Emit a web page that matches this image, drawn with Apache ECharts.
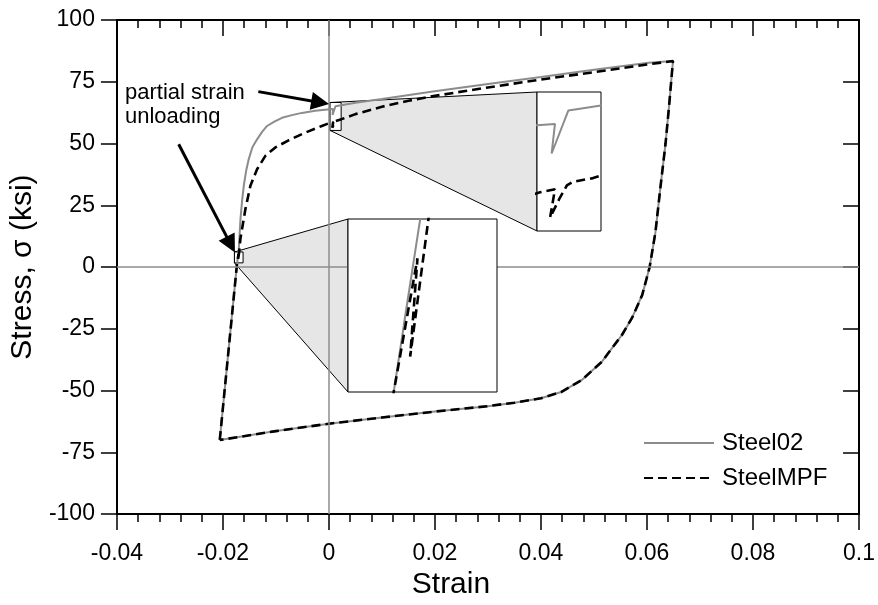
<!DOCTYPE html>
<html>
<head>
<meta charset="utf-8">
<script src="https://cdn.jsdelivr.net/npm/echarts@6/dist/echarts.min.js"></script>
<style>
    html, body { margin: 0; padding: 0; background: #fff; }
    #chart { width: 878px; height: 605px; }
</style>
</head>
<body>
<div id="chart"></div>
<script>
    /*----------  data: [strain, stress (ksi)]  ----------*/
    var strainRange = [-0.04, 0.1];
    var stressRange = [-100, 100];

    // reloading branch, Steel02 (grey)
    var steel02Reload = [
        [-0.0206, -70.0], [-0.01733, 1.7], [-0.0171, 5.2], [-0.01722, 3.4], [-0.01704, 6.1],
        [-0.01685, 13.5], [-0.01669, 19.5], [-0.01638, 27.0], [-0.01607, 32.9], [-0.0156, 39.2],
        [-0.01513, 43.7], [-0.01444, 48.5], [-0.01356, 51.7], [-0.01265, 54.6], [-0.01168, 57.1],
        [-0.0103, 58.9], [-0.00886, 60.4], [-0.0070, 61.5], [-0.0051, 62.4], [-0.0026, 63.3],
        [0.0002, 63.9], [0.00079, 64.0], [0.00068, 61.6], [0.00123, 65.1], [0.0023, 65.5],
        [0.005, 66.5], [0.010, 68.0], [0.0196, 71.1], [0.030, 74.1], [0.040, 76.9],
        [0.050, 79.9], [0.0603, 82.7], [0.0649, 83.4]
    ];

    // reloading branch, SteelMPF (dashed)
    var steelMPFReload = [
        [-0.0206, -70.0], [-0.01733, 1.7], [-0.01707, 5.1], [-0.01715, 2.6], [-0.01695, 6.1],
        [-0.0167, 11.5], [-0.01576, 23.5], [-0.01482, 32.9], [-0.01356, 39.6], [-0.0120, 45.0],
        [-0.01012, 48.4], [-0.00762, 51.3], [-0.00448, 54.4], [-0.00134, 57.1], [0.0003, 58.45],
        [0.00079, 58.7], [0.00063, 56.4], [0.00095, 58.0], [0.00118, 59.0], [0.00138, 59.3],
        [0.00204, 59.6], [0.005, 61.9], [0.010, 64.9], [0.015, 67.3], [0.020, 69.3],
        [0.030, 72.7], [0.040, 75.9], [0.050, 78.9], [0.060, 82.0], [0.0649, 83.4]
    ];

    // unloading branch, both models coincide
    var sharedUnload = [
        [0.0649, 83.4], [0.0642, 66.0], [0.0635, 50.0], [0.0625, 31.6], [0.0616, 14.2],
        [0.0605, 0.0], [0.0591, -11.3], [0.0572, -20.5], [0.0553, -27.4], [0.0515, -38.3],
        [0.04765, -45.8], [0.0438, -50.6], [0.040, -53.1], [0.035, -54.9], [0.030, -56.3],
        [0.020, -58.5], [0.010, -60.9], [0.000, -63.4], [-0.010, -66.4], [-0.0206, -70.0]
    ];

    // magnified windows (data units)
    var zoomRects = [
        { strain: [0.0002, 0.0023], stress: [55.3, 66.6] },
        { strain: [-0.01783, -0.0162], stress: [1.7, 6.1] }
    ];

    // annotation arrows (data units): [from, to]
    var arrows = [
        [[-0.01332, 71.0], [-0.00166, 66.6]],
        [[-0.02835, 49.7], [-0.01852, 9.1]]
    ];
    var noteText = 'partial strain\nunloading';

    /*----------  layout  ----------*/
    var FONT = '"Liberation Sans", Arial, sans-serif';
    var plot = { left: 116, top: 20, right: 17, bottom: 88 };
    var insetBoxes = [
        { left: 537, top: 92, width: 64, height: 139 },
        { left: 348, top: 219, width: 149, height: 173 }
    ];

    var steel02Data = steel02Reload.concat(sharedUnload);
    var steelMPFData = steelMPFReload.concat(sharedUnload);

    var greyLine = { color: '#8c8c8c', width: 2 };
    var dashLine = { color: '#000', width: 2.6, type: [9, 5] };
    var axisLine = { color: '#000', width: 2 };
    var tickLine = { color: '#000', width: 1.5 };

    var grids = [{ left: plot.left, top: plot.top, right: plot.right, bottom: plot.bottom, show: false }];
    var xAxes = [
        {
            type: 'value', gridIndex: 0, min: strainRange[0], max: strainRange[1], interval: 0.02,
            position: 'bottom',
            axisLine: { onZero: false, lineStyle: axisLine },
            axisTick: { length: 16, lineStyle: tickLine },
            minorTick: { show: true, splitNumber: 5, length: 8, lineStyle: tickLine },
            splitLine: { show: false },
            axisLabel: { color: '#000', fontSize: 23, fontFamily: FONT, margin: 28 },
            name: 'Strain', nameLocation: 'middle', nameGap: 46,
            nameTextStyle: { color: '#000', fontSize: 30, fontFamily: FONT, padding: [0, 74, 0, 0] }
        },
        {
            type: 'value', gridIndex: 0, min: strainRange[0], max: strainRange[1], interval: 0.02,
            position: 'top',
            axisLine: { onZero: false, lineStyle: axisLine },
            axisTick: { inside: true, length: 16, lineStyle: tickLine },
            minorTick: { show: true, splitNumber: 5, length: 8, lineStyle: tickLine },
            splitLine: { show: false },
            axisLabel: { show: false }
        }
    ];
    var yAxes = [
        {
            type: 'value', gridIndex: 0, min: stressRange[0], max: stressRange[1], interval: 25,
            position: 'left',
            axisLine: { onZero: false, lineStyle: axisLine },
            axisTick: { length: 16, lineStyle: tickLine },
            splitLine: { show: false },
            axisLabel: { color: '#000', fontSize: 23, fontFamily: FONT, margin: 22 },
            name: 'Stress, σ (ksi)', nameLocation: 'middle', nameGap: 75, nameRotate: 90,
            nameTextStyle: { color: '#000', fontSize: 30, fontFamily: FONT }
        },
        {
            type: 'value', gridIndex: 0, min: stressRange[0], max: stressRange[1], interval: 25,
            position: 'right',
            axisLine: { onZero: false, lineStyle: axisLine },
            axisTick: { inside: true, length: 16, lineStyle: tickLine },
            splitLine: { show: false },
            axisLabel: { show: false }
        }
    ];

    var series = [
        {
            // shaded projection from small window to magnified box, plus the window frame
            type: 'custom', xAxisIndex: 0, yAxisIndex: 0, z: 1, silent: true, clip: false,
            data: [0, 1],
            renderItem: function (params, api) {
                var i = params.dataIndex;
                var r = zoomRects[i], b = insetBoxes[i];
                var tl = api.coord([r.strain[0], r.stress[1]]);
                var bl = api.coord([r.strain[0], r.stress[0]]);
                var br = api.coord([r.strain[1], r.stress[0]]);
                return {
                    type: 'group',
                    children: [
                        {
                            type: 'polygon',
                            shape: { points: [tl, [b.left, b.top], [b.left, b.top + b.height], bl] },
                            style: { fill: '#e6e6e6', stroke: '#000', lineWidth: 1 }
                        },
                        {
                            type: 'rect',
                            shape: { x: tl[0], y: tl[1], width: br[0] - tl[0], height: br[1] - tl[1] },
                            style: { fill: '#fff', stroke: '#000', lineWidth: 1 }
                        }
                    ]
                };
            }
        },
        {
            type: 'line', name: 'zero', data: [], xAxisIndex: 0, yAxisIndex: 0, z: 2, silent: true,
            markLine: {
                silent: true, symbol: 'none', animation: false, label: { show: false },
                lineStyle: { color: '#8c8c8c', width: 1.5, type: 'solid' },
                data: [{ xAxis: 0 }, { yAxis: 0 }]
            }
        },
        {
            type: 'line', name: 'Steel02', data: steel02Data, xAxisIndex: 0, yAxisIndex: 0, z: 3,
            showSymbol: false, symbol: 'none', lineStyle: greyLine, itemStyle: { color: greyLine.color }
        },
        {
            type: 'line', name: 'SteelMPF', data: steelMPFData, xAxisIndex: 0, yAxisIndex: 0, z: 3,
            showSymbol: false, symbol: 'none', lineStyle: dashLine, itemStyle: { color: '#000' }
        },
        {
            type: 'line', name: 'arrows', data: [], xAxisIndex: 0, yAxisIndex: 0, z: 4, silent: true,
            markLine: {
                silent: true, animation: false, symbol: ['none', 'triangle'], symbolSize: 18,
                label: { show: false },
                lineStyle: { color: '#000', width: 3, type: 'solid' },
                itemStyle: { color: '#000' },
                data: arrows.map(function (a) { return [{ coord: a[0] }, { coord: a[1] }]; })
            }
        }
    ];

    // magnified insets: own grid, axes spanning the small window
    insetBoxes.forEach(function (b, i) {
        var r = zoomRects[i];
        var gi = i + 1;
        grids.push({
            left: b.left, top: b.top, width: b.width, height: b.height, show: true,
            backgroundColor: '#fff', borderColor: '#000', borderWidth: 1, zlevel: 1, z: 10
        });
        xAxes.push({ type: 'value', gridIndex: gi, min: r.strain[0], max: r.strain[1], show: false });
        yAxes.push({ type: 'value', gridIndex: gi, min: r.stress[0], max: r.stress[1], show: false });
        var ax = xAxes.length - 1, ay = yAxes.length - 1;
        series.push({
            type: 'line', name: 'Steel02', data: steel02Data, xAxisIndex: ax, yAxisIndex: ay,
            zlevel: 1, z: 11, symbol: 'none', clip: true, silent: true, lineStyle: greyLine
        });
        series.push({
            type: 'line', name: 'SteelMPF', data: steelMPFData, xAxisIndex: ax, yAxisIndex: ay,
            zlevel: 1, z: 12, symbol: 'none', clip: true, silent: true, lineStyle: dashLine
        });
    });

    var chart = echarts.init(document.getElementById('chart'), null, { renderer: 'canvas' });
    chart.setOption({
        animation: false,
        backgroundColor: '#fff',
        grid: grids,
        xAxis: xAxes,
        yAxis: yAxes,
        legend: {
            data: ['Steel02', 'SteelMPF'],
            orient: 'vertical', left: 638, top: 426,
            itemWidth: 70, itemHeight: 14, itemGap: 11,
            itemStyle: { color: 'rgba(0,0,0,0)', borderColor: 'rgba(0,0,0,0)', borderWidth: 0, opacity: 0 },
            textStyle: { color: '#000', fontSize: 24, fontFamily: FONT, padding: [0, 0, 0, 3] }
        },
        graphic: [{
            type: 'text', left: 125, top: 81, z: 20,
            style: { text: noteText, fill: '#000', font: '22px ' + FONT, lineHeight: 24 }
        }],
        series: series
    });
</script>
</body>
</html>
